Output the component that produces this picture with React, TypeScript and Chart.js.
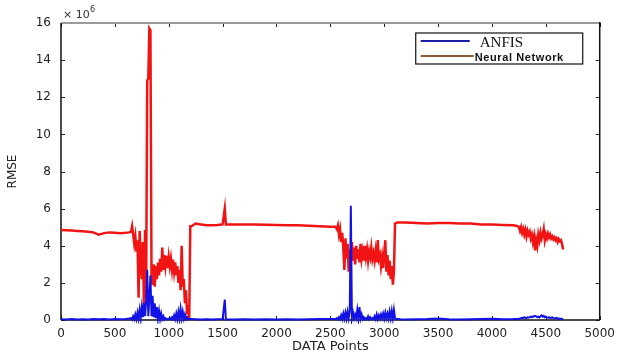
import { useEffect, useRef } from 'react';
import { Chart, registerables } from 'chart.js';

Chart.register(...registerables);

// ---- data ----
const xPoints = [
  0, 50, 100, 150, 200, 250, 300, 350, 400, 450, 500, 550, 600, 630,
  650, 660, 670, 680, 690, 700, 710, 720, 730, 740, 750, 760, 770, 780, 790,
  800, 810, 820, 830, 840, 850, 860, 870, 880, 890, 900, 910, 920, 930, 940,
  950, 960, 970, 980, 990, 1000, 1010, 1020, 1030, 1040, 1050, 1060, 1070, 1080,
  1090, 1100, 1110, 1120, 1130, 1140, 1150, 1160, 1170, 1180, 1190, 1200,
  1210, 1250, 1300, 1350, 1400, 1450, 1500, 1520, 1530, 1600, 1700, 1800, 1900,
  2000, 2100, 2200, 2300, 2400, 2500, 2540,
  2550, 2560, 2570, 2580, 2590, 2600, 2610, 2620, 2630, 2640, 2650, 2660, 2670,
  2680, 2690, 2700, 2710, 2720, 2730, 2740, 2750, 2760, 2770, 2780, 2790, 2800,
  2810, 2820, 2830, 2840, 2850, 2860, 2870, 2880, 2890, 2900, 2910, 2920, 2930,
  2940, 2950, 2960, 2970, 2980, 2990, 3000, 3010, 3020, 3030, 3040, 3050, 3060,
  3070, 3080, 3090, 3100, 3110, 3120,
  3150, 3200, 3300, 3400, 3500, 3600, 3700, 3800, 3900, 4000, 4100, 4200, 4240,
  4250, 4260, 4270, 4280, 4290, 4300, 4310, 4320, 4330, 4340, 4350, 4360, 4370,
  4380, 4390, 4400, 4410, 4420, 4430, 4440, 4450, 4460, 4470, 4480, 4490, 4500,
  4510, 4520, 4530, 4540, 4550, 4560, 4570, 4580, 4590, 4600, 4610, 4620, 4630,
  4640, 4650, 4660,
];

const anfisValues = [
  0.04, 0.03, 0.05, 0.03, 0.04, 0.03, 0.05, 0.04, 0.06, 0.03, 0.05, 0.04, 0.06, 0.08,
  0.1, 0.02, 0.2, 0.05, 0.3, 0.05, 0.4, 0.08, 0.55, 0.1, 0.7, 0.15, 0.9, 0.2, 1.0,
  2.7, 0.2, 1.2, 2.4, 0.2, 1.3, 0.15, 0.9, 0.1, 0.7, 0.08, 0.5, 0.05, 0.35, 0.05,
  0.2, 0.03, 0.1, 0.04, 0.05, 0.06, 0.1, 0.04, 0.15, 0.05, 0.25, 0.05, 0.35, 0.05,
  0.45, 0.08, 0.6, 0.1, 0.45, 0.08, 0.3, 0.05, 0.15, 0.03, 0.05, 0.05,
  0.05, 0.04, 0.03, 0.04, 0.03, 0.04, 0.05, 1.1, 0.04, 0.03, 0.04, 0.03, 0.04,
  0.03, 0.04, 0.03, 0.04, 0.05, 0.06, 0.05,
  0.05, 0.1, 0.03, 0.15, 0.05, 0.25, 0.05, 0.35, 0.08, 0.4, 0.08, 0.45, 0.1,
  0.5, 6.15, 0.1, 0.4, 0.08, 0.3, 0.1, 0.55, 0.1, 0.7, 0.08, 0.3, 0.05,
  0.15, 0.03, 0.1, 0.05, 0.2, 0.04, 0.15, 0.05, 0.1, 0.04, 0.2, 0.05, 0.3,
  0.05, 0.25, 0.08, 0.3, 0.1, 0.35, 0.08, 0.4, 0.1, 0.35, 0.08, 0.45, 0.1,
  0.5, 0.1, 0.55, 0.1, 0.05, 0.05,
  0.04, 0.03, 0.04, 0.05, 0.08, 0.04, 0.03, 0.04, 0.05, 0.07, 0.04, 0.05, 0.06,
  0.06, 0.08, 0.1, 0.12, 0.1, 0.15, 0.12, 0.1, 0.14, 0.12, 0.15, 0.18, 0.15,
  0.2, 0.18, 0.22, 0.2, 0.15, 0.18, 0.14, 0.2, 0.25, 0.18, 0.22, 0.15, 0.18,
  0.14, 0.12, 0.15, 0.1, 0.12, 0.14, 0.1, 0.08, 0.1, 0.12, 0.08, 0.06, 0.08,
  0.05, 0.06, 0.05,
];

const nnValues = [
  4.85, 4.84, 4.82, 4.8, 4.78, 4.76, 4.72, 4.6, 4.68, 4.72, 4.7, 4.68, 4.7, 4.72,
  4.75, 5.05, 4.6, 4.1, 4.5, 3.7, 4.3, 1.2, 4.8, 3.2, 2.2, 4.2, 0.65, 4.85, 1.2,
  12.9, 13.0, 15.7, 15.6, 2.4, 1.9, 3.0, 1.8, 2.9, 2.2, 3.1, 2.4, 3.3, 2.6, 3.9,
  2.7, 3.5, 2.9, 3.45, 2.8, 3.4, 2.9, 3.3, 2.7, 3.25, 2.6, 3.1, 2.4, 2.9,
  2.0, 2.7, 1.6, 4.0, 1.8, 2.2, 0.9, 1.6, 0.3, 0.8, 0.05, 5.05,
  5.05, 5.2, 5.15, 5.1, 5.1, 5.12, 5.15, 6.0, 5.15, 5.15, 5.15, 5.15, 5.13,
  5.12, 5.1, 5.1, 5.08, 5.05, 5.03, 5.02,
  5.0, 4.9, 5.1, 4.6, 4.9, 4.2, 4.7, 3.9, 2.7, 4.4, 3.3, 4.1, 2.6,
  3.8, 3.1, 4.2, 3.2, 3.9, 3.0, 4.0, 3.3, 3.8, 3.1, 4.1, 3.3, 3.7,
  3.2, 4.0, 3.4, 3.8, 3.2, 3.7, 3.4, 3.9, 3.3, 3.6, 3.2, 3.7, 3.1,
  4.3, 3.3, 3.5, 2.9, 3.4, 2.8, 3.6, 4.3, 2.6, 3.5, 2.4, 3.2, 2.2,
  2.9, 1.9, 2.6, 5.2, 5.22, 5.25,
  5.25, 5.25, 5.22, 5.2, 5.22, 5.22, 5.2, 5.2, 5.15, 5.15, 5.12, 5.1, 5.05,
  5.0, 4.8, 5.0, 4.7, 4.9, 4.6, 4.85, 4.5, 4.8, 4.6, 4.75, 4.4, 4.6,
  4.2, 4.5, 3.75, 4.3, 4.0, 4.6, 4.3, 4.7, 4.4, 4.6, 4.9, 4.3, 4.6,
  4.4, 4.65, 4.45, 4.6, 4.4, 4.5, 4.35, 4.45, 4.3, 4.4, 4.2, 4.35, 4.25,
  4.3, 4.1, 3.8,
];

const seriesLabels = ['ANFIS', 'Neural Network'];
const xTickValues = [0, 500, 1000, 1500, 2000, 2500, 3000, 3500, 4000, 4500, 5000];
const yTickValues = [0, 2, 4, 6, 8, 10, 12, 14, 16];
const xAxisTitle = 'DATA Points';
const yAxisTitle = 'RMSE';

const tickFont = { family: '"DejaVu Sans", sans-serif', size: 12 };

const framePlugin = {
  id: 'matlabFrame',
  beforeDatasetsDraw(chart: any) {
    const { ctx, chartArea, scales } = chart;
    const { left, right, top, bottom } = chartArea;
    ctx.save();
    ctx.strokeStyle = '#222';
    ctx.lineWidth = 1;
    const seg = (x1: number, y1: number, x2: number, y2: number) => {
      ctx.beginPath();
      ctx.moveTo(x1, y1);
      ctx.lineTo(x2, y2);
      ctx.stroke();
    };
    scales.x.ticks.forEach((t: any) => {
      const px = Math.round(scales.x.getPixelForValue(t.value)) + 0.5;
      seg(px, bottom, px, bottom - 4);
      seg(px, top, px, top + 4);
    });
    scales.y.ticks.forEach((t: any) => {
      const py = Math.round(scales.y.getPixelForValue(t.value)) + 0.5;
      seg(left, py, left + 4, py);
      seg(right, py, right - 4, py);
    });
    ctx.strokeStyle = '#9a9a9a';
    ctx.lineWidth = 2;
    seg(left, top, right, top);
    ctx.strokeStyle = '#111';
    ctx.lineWidth = 1.5;
    seg(left, top, left, bottom);
    seg(left, bottom, right, bottom);
    seg(right, top - 1, right, bottom);
    ctx.restore();
  },
  afterDraw(chart: any) {
    const { ctx, chartArea } = chart;
    const { left, right, top } = chartArea;
    ctx.save();
    ctx.fillStyle = '#333';
    ctx.textBaseline = 'alphabetic';
    ctx.font = '11px "DejaVu Sans", sans-serif';
    ctx.fillText('\u00d7 10', left + 2, top - 5);
    ctx.font = '8px "DejaVu Sans", sans-serif';
    ctx.fillText('6', left + 29, top - 11);

    const bx = right - 184;
    const by = top + 10;
    const bw = 167;
    const bh = 31;
    ctx.fillStyle = '#fff';
    ctx.fillRect(bx, by, bw, bh);
    ctx.strokeStyle = '#111';
    ctx.lineWidth = 1.2;
    ctx.strokeRect(bx, by, bw, bh);
    const ds = chart.data.datasets;
    ctx.lineWidth = 2;
    ctx.strokeStyle = ds[0].legendColor;
    ctx.beginPath();
    ctx.moveTo(bx + 5, by + 8);
    ctx.lineTo(bx + 54, by + 8);
    ctx.stroke();
    ctx.fillStyle = '#111';
    ctx.font = '15px "Liberation Serif", serif';
    ctx.fillText(ds[0].label, bx + 64, by + 14);
    ctx.strokeStyle = ds[1].legendColor;
    ctx.beginPath();
    ctx.moveTo(bx + 5, by + 23);
    ctx.lineTo(bx + 58, by + 23);
    ctx.stroke();
    ctx.font = 'bold 11px "Liberation Sans", sans-serif';
    (ctx as any).letterSpacing = '0.6px';
    ctx.fillText(ds[1].label, bx + 59, by + 28);
    ctx.restore();
  },
};

export default function App() {
  const canvasRef = useRef<HTMLCanvasElement | null>(null);

  useEffect(() => {
    document.body.style.margin = '0';
    const canvas = canvasRef.current;
    if (!canvas) return;
    const anfisData = xPoints.map((x, i) => ({ x, y: anfisValues[i] }));
    const nnData = xPoints.map((x, i) => ({ x, y: nnValues[i] }));

    const chart = new Chart(canvas, {
      type: 'line',
      data: {
        datasets: [
          {
            label: seriesLabels[0],
            data: anfisData,
            borderColor: '#1212e6',
            backgroundColor: '#1212e6',
            borderWidth: 2,
            pointRadius: 0,
            tension: 0,
            clip: 4,
            legendColor: '#1c1ca8',
          } as any,
          {
            label: seriesLabels[1],
            data: nnData,
            borderColor: '#f01414',
            backgroundColor: '#f01414',
            borderWidth: 2.5,
            pointRadius: 0,
            tension: 0,
            clip: 4,
            legendColor: '#8a5a3a',
          } as any,
        ],
      },
      options: {
        animation: false,
        responsive: false,
        events: [],
        layout: { padding: { top: 23, right: 20, left: 0, bottom: 0 } },
        plugins: {
          legend: { display: false },
          tooltip: { enabled: false },
        },
        scales: {
          x: {
            type: 'linear',
            min: 0,
            max: 5000,
            grid: { display: false, drawTicks: false },
            border: { display: false },
            afterBuildTicks: (scale: any) => {
              scale.ticks = xTickValues.map((v) => ({ value: v }));
            },
            afterFit: (scale: any) => {
              scale.height = 39;
            },
            ticks: {
              font: tickFont,
              color: '#222',
              padding: 7,
              maxRotation: 0,
              autoSkip: false,
              callback: (v: any) => String(v),
            },
            title: {
              display: true,
              text: xAxisTitle,
              color: '#222',
              font: { family: '"DejaVu Sans", sans-serif', size: 13 },
              padding: { top: 0, bottom: 5 },
            },
          },
          y: {
            type: 'linear',
            min: 0,
            max: 16,
            grid: { display: false, drawTicks: false },
            border: { display: false },
            afterBuildTicks: (scale: any) => {
              scale.ticks = yTickValues.map((v) => ({ value: v }));
            },
            afterFit: (scale: any) => {
              scale.width = 61;
            },
            ticks: {
              font: tickFont,
              color: '#222',
              padding: 10,
              autoSkip: false,
              callback: (v: any) => String(v),
            },
            title: {
              display: true,
              text: yAxisTitle,
              color: '#222',
              font: { family: '"DejaVu Sans", sans-serif', size: 12 },
              padding: { top: 6, bottom: 0 },
            },
          },
        },
      },
      plugins: [framePlugin],
    });
    return () => chart.destroy();
  }, []);

  return (
    <div style={{ width: 622, height: 359, background: '#fff' }}>
      <canvas ref={canvasRef} width={622} height={359} />
    </div>
  );
}
